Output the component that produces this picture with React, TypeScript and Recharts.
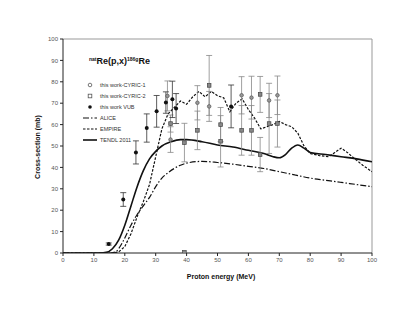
import React from "react"
import { ComposedChart, Line, Scatter, XAxis, YAxis, ErrorBar, ReferenceLine } from "recharts"

// measured points
const vubE = [14.8, 19.5, 23.6, 27.1, 30.3, 33.3, 35.4, 36.6, 54.4]
const vubY = [4.2, 25, 47, 58.4, 66.2, 70.3, 71.8, 67.5, 68.5]
const vubErr = [0.5, 3.2, 5.4, 6.6, 7.4, 5, 8.5, 7, 10]

const cyric1E = [33.8, 34.8, 43.5, 47.3, 57.8, 61.0, 66.7, 69.4]
const cyric1Y = [73.4, 53, 70.2, 68.5, 73.7, 72.6, 71.3, 73.7]
const cyric1Err = [7, 6, 8, 7, 8.7, 10, 8, 9]

const cyric2E = [34.8, 39.3, 39.3, 43.5, 47.3, 51.0, 51.0, 57.8, 61.0, 63.8, 63.8, 66.7, 69.4]
const cyric2Y = [60.5, 51.6, 0.3, 57.3, 78.3, 60, 52.2, 57.3, 57.3, 74.1, 46, 60.5, 60.5]
const cyric2Err = [4, 9, 0, 9, 14, 8, 12, 11.6, 11.6, 8.4, 8, 14, 11]

// model curves
const tendlE = [0, 10, 12, 14, 16, 18, 20, 22, 24, 26, 28, 30, 32, 35, 38, 40, 45, 50, 55, 60, 65, 68, 70, 72, 74, 76, 78, 80, 85, 90, 95, 100]
const tendlY = [0, 0, 0, 0.3, 2, 6, 13, 22, 31, 38.5, 44, 47.5, 50, 52, 53, 53, 52, 50.5, 49.5, 48, 46.5, 45, 44.5, 46, 49, 50.5, 49, 47, 46, 45, 44, 42.6]

const empireE = [0, 16, 18, 20, 22, 24, 26, 28, 30, 32, 34, 36, 38, 40, 42, 44, 46, 48, 50, 52, 54, 56, 58, 60, 62, 64, 66, 68, 70, 72, 74, 76, 78, 80, 83, 86, 88, 90, 92, 94, 97, 100]
const empireY = [0, 0, 0.5, 3, 9, 17, 24, 32, 45, 58, 65, 68, 71, 69.5, 73, 75.5, 73, 75.5, 73.5, 72.5, 66, 70, 72, 67, 63, 58, 59, 60, 61.5, 60, 59, 56, 50, 46.5, 45.5, 45, 47, 49, 47, 44.5, 41, 38]

const aliceE = [0, 15, 17, 18, 20, 22, 24, 26, 27, 28, 30, 32, 34, 36, 38, 40, 45, 50, 55, 60, 65, 70, 75, 80, 85, 90, 95, 100]
const aliceY = [0, 0, 0.5, 2, 7, 13, 18, 22, 24, 26, 31, 35, 37.5, 39.5, 41, 42, 42.8, 42.3, 41.5, 40.5, 39.5, 38, 36.5, 35, 34, 33, 32, 31]

const ticks = [0, 10, 20, 30, 40, 50, 60, 70, 80, 90, 100]

const pts = (e: number[], y: number[], err?: number[]) =>
  e.map((x, i) => (err ? { x, y: y[i], err: err[i] } : { x, y: y[i] }))

const vub = pts(vubE, vubY, vubErr)
const cyric1 = pts(cyric1E, cyric1Y, cyric1Err)
const cyric2 = pts(cyric2E, cyric2Y, cyric2Err)
const tendl = pts(tendlE, tendlY)
const empire = pts(empireE, empireY)
const alice = pts(aliceE, aliceY)

const Dot = (p: any) => <circle cx={p.cx} cy={p.cy} r={2} fill="#111" />
const OpenCircle = (p: any) => <circle cx={p.cx} cy={p.cy} r={1.8} fill="#999" stroke="#555" strokeWidth={0.7} />
const OpenSquare = (p: any) => <rect x={p.cx - 1.8} y={p.cy - 1.8} width={3.6} height={3.6} fill="#888" stroke="#444" strokeWidth={0.7} />

const tickStyle = { fontSize: 6, fill: "#555" }

const legendRows = [
  { label: "this work-CYRIC-1", kind: "c1" },
  { label: "this work-CYRIC-2", kind: "c2" },
  { label: "this work VUB", kind: "vub" },
  { label: "ALICE", kind: "alice" },
  { label: "EMPIRE", kind: "empire" },
  { label: "TENDL 2011", kind: "tendl" },
]

function LegendMark({ kind }: { kind: string }) {
  return (
    <svg width={14} height={8} style={{ display: "block" }}>
      {kind === "c1" && <circle cx={7} cy={4} r={1.8} fill="#fff" stroke="#555" strokeWidth={0.8} />}
      {kind === "c2" && <rect x={5.2} y={2.2} width={3.6} height={3.6} fill="#fff" stroke="#555" strokeWidth={0.8} />}
      {kind === "vub" && <circle cx={7} cy={4} r={1.8} fill="#111" />}
      {kind === "alice" && <line x1={0} y1={4} x2={14} y2={4} stroke="#111" strokeWidth={1.2} strokeDasharray="6 2 1.5 2" />}
      {kind === "empire" && <line x1={0} y1={4} x2={14} y2={4} stroke="#111" strokeWidth={1.2} strokeDasharray="2.5 1.5" />}
      {kind === "tendl" && <line x1={0} y1={4} x2={14} y2={4} stroke="#111" strokeWidth={1.6} />}
    </svg>
  )
}

export default function App() {
  return (
    <div style={{ position: "absolute", left: 0, top: 0, width: 415, height: 321, background: "#fff", fontFamily: "'Liberation Sans', Arial, sans-serif" }}>
      <ComposedChart width={415} height={321} margin={{ top: 39, right: 43, left: 35, bottom: 38 }}>
        <XAxis dataKey="x" type="number" domain={[0, 100]} ticks={ticks} tick={tickStyle} tickSize={3} stroke="#222" height={30} allowDataOverflow />
        <YAxis dataKey="y" type="number" domain={[0, 100]} ticks={ticks} tick={tickStyle} tickSize={3} stroke="#222" width={28} allowDataOverflow />
        <ReferenceLine y={100} stroke="#999" />
        <ReferenceLine x={100} stroke="#999" />
        <Line data={alice} dataKey="y" type="monotone" stroke="#111" strokeWidth={1.2} strokeDasharray="6 2 1.5 2" dot={false} isAnimationActive={false} />
        <Line data={empire} dataKey="y" type="linear" stroke="#111" strokeWidth={1.2} strokeDasharray="2.5 1.5" dot={false} isAnimationActive={false} />
        <Line data={tendl} dataKey="y" type="monotone" stroke="#111" strokeWidth={1.6} dot={false} isAnimationActive={false} />
        <Scatter data={cyric1} dataKey="y" shape={OpenCircle} isAnimationActive={false}>
          <ErrorBar dataKey="err" direction="y" width={3} stroke="#888" strokeWidth={0.8} />
        </Scatter>
        <Scatter data={cyric2} dataKey="y" shape={OpenSquare} isAnimationActive={false}>
          <ErrorBar dataKey="err" direction="y" width={3} stroke="#888" strokeWidth={0.8} />
        </Scatter>
        <Scatter data={vub} dataKey="y" shape={Dot} isAnimationActive={false}>
          <ErrorBar dataKey="err" direction="y" width={3} stroke="#333" strokeWidth={0.8} />
        </Scatter>
      </ComposedChart>

      <div style={{ position: "absolute", left: 89, top: 56, fontSize: 9, fontWeight: "bold", color: "#111", whiteSpace: "nowrap" }}>
        <span style={{ fontSize: 5, position: "relative", top: -3 }}>nat</span>Re(p,x)
        <span style={{ fontSize: 5, position: "relative", top: -3 }}>186g</span>Re
      </div>

      <div style={{ position: "absolute", left: 83, top: 79 }}>
        {legendRows.map((r) => (
          <div key={r.label} style={{ display: "flex", alignItems: "center", height: 11, fontSize: 5.5, color: "#333", whiteSpace: "nowrap" }}>
            <LegendMark kind={r.kind} />
            <span style={{ marginLeft: 3 }}>{r.label}</span>
          </div>
        ))}
      </div>

      <div style={{ position: "absolute", left: 37, top: 147, transform: "translate(-50%, -50%) rotate(-90deg)", fontSize: 7, fontWeight: "bold", color: "#111", whiteSpace: "nowrap" }}>
        Cross-section (mb)
      </div>
      <div style={{ position: "absolute", left: 221, top: 276, transform: "translate(-50%, -50%)", fontSize: 7, fontWeight: "bold", color: "#111", whiteSpace: "nowrap" }}>
        Proton energy (MeV)
      </div>
    </div>
  )
}
